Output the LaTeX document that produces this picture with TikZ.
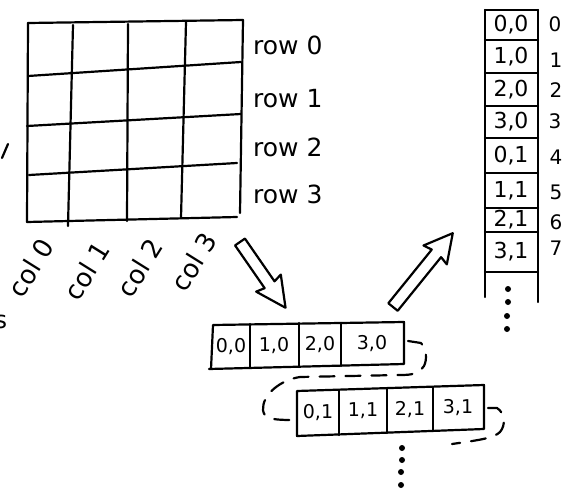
\documentclass[tikz,border=0pt]{standalone}
\usepackage{fontspec}
\setmainfont{DejaVu Sans}
\begin{document}
\begin{tikzpicture}[x=1pt,y=-1pt, line width=2.2pt, line cap=round, line join=round,
  rowlab/.style={font=\fontsize{25}{27}\selectfont, anchor=west, inner sep=0pt},
  collab/.style={font=\fontsize{26}{28}\selectfont, rotate=58, inner sep=0pt},
  cellA/.style={font=\fontsize{19}{21}\selectfont, inner sep=0pt},
  cellB/.style={font=\fontsize{22}{24}\selectfont, inner sep=0pt},
  idx/.style={font=\fontsize{20}{22}\selectfont, inner sep=0pt},
  wrap/.style={dash pattern=on 15pt off 11pt},
  dotmark/.style={circle, fill=black, inner sep=0pt, minimum size=6pt},
  hollow/.style={draw, fill=white}]
\useasboundingbox (0,0) rectangle (566,490);

% stray cut-off marks at the left edge
\draw (2,158) -- (8,144);
\node[font=\fontsize{24}{26}\selectfont, inner sep=0pt] (stray) at (1,322) {s};

% grid
\draw (28,23) -- (243,20);
\draw (28,76) -- (241,62);
\draw (27,126) -- (241,114);
\draw (29,175) -- (237,163);
\draw (27,222) -- (237,217);
\draw (28,23) -- (27,222);
\draw (73,25) -- (68,226);
\draw (128,24) -- (127,221);
\draw (186,22) -- (181,218);
\draw (243,20) -- (240,213);

% row labels
\node[rowlab] (r0) at (252,45) {row 0};
\node[rowlab] (r1) at (252,99) {row 1};
\node[rowlab] (r2) at (252,147) {row 2};
\node[rowlab] (r3) at (252,194) {row 3};

% column labels
\node[collab] (c0) at (31,268) {col 0};
\node[collab] (c1) at (87,271) {col 1};
\node[collab] (c2) at (140,268) {col 2};
\node[collab] (c3) at (194,262) {col 3};

% hollow arrows
\begin{scope}[shift={(240,242)}, rotate=-55.3]
  \draw[hollow] (0,-6) -- (52,-6) -- (50,-15) -- (80,0) -- (50,15) -- (52,6) -- (0,6) -- cycle;
\end{scope}
\begin{scope}[shift={(393,307)}, rotate=51]
  \draw[hollow] (0,-6) -- (69,-6) -- (67,-15) -- (95,0) -- (67,15) -- (69,6) -- (0,6) -- cycle;
\end{scope}

% row 0 strip
\draw (213,325) -- (404,322) -- (404,364) -- (209,369) (213,325) -- (211,369);
\draw (250,324) -- (250,368);
\draw (299,323) -- (299,367);
\draw (341,323) -- (341,366);
\node[cellA] (a00) at (231,347) {0,0};
\node[cellA] (a10) at (274,346) {1,0};
\node[cellA] (a20) at (320,345) {2,0};
\node[cellA] (a30) at (372,344) {3,0};

% wrap from row 0 to row 1
\draw[wrap] (408,341) -- (421,343) .. controls (427,350) and (427,360) .. (424,366)
  .. controls (418,374) and (412,375) .. (400,375) -- (300,377)
  .. controls (280,380) and (262,395) .. (263,410)
  .. controls (264,418) and (270,420) .. (292,420);

% row 1 strip
\draw (297,391) -- (484,385) -- (484,429) -- (297,436) -- cycle;
\draw (339,390) -- (339,435);
\draw (387,388) -- (387,433);
\draw (433,387) -- (433,431);
\node[cellA] (a01) at (318,413) {0,1};
\node[cellA] (a11) at (363,411) {1,1};
\node[cellA] (a21) at (410,410) {2,1};
\node[cellA] (a31) at (458,408) {3,1};

% wrap after row 1
\draw[wrap] (488,408) -- (497,408) .. controls (505,413) and (506,425) .. (500,432)
  .. controls (494,438) and (480,440) .. (452,444);

% dots under row 1
\node[dotmark] (d1) at (402,448) {};
\node[dotmark] (d2) at (402,460) {};
\node[dotmark] (d3) at (401,472) {};
\node[dotmark] (d4) at (401,485) {};

% vertical strip
\draw (485,10) -- (485,297);
\draw (538,10) -- (538,302);
\foreach \yy in {10,40,73,106,138,173,208,232,272} \draw (485,\yy) -- (538,\yy);
\node[cellB] (m0) at (511,25) {0,0};
\node[cellB] (m1) at (511,57) {1,0};
\node[cellB] (m2) at (511,90) {2,0};
\node[cellB] (m3) at (511,122) {3,0};
\node[cellB] (m4) at (511,156) {0,1};
\node[cellB] (m5) at (511,191) {1,1};
\node[cellB] (m6) at (511,220) {2,1};
\node[cellB] (m7) at (511,252) {3,1};

% indices
\node[idx] (i0) at (555,24) {0};
\node[idx] (i1) at (556,60) {1};
\node[idx] (i2) at (556,90) {2};
\node[idx] (i3) at (555,121) {3};
\node[idx] (i4) at (556,157) {4};
\node[idx] (i5) at (556,192) {5};
\node[idx] (i6) at (556,222) {6};
\node[idx] (i7) at (556,248) {7};

% dots under vertical strip
\node[dotmark] (e1) at (508,289) {};
\node[dotmark] (e2) at (508,302) {};
\node[dotmark] (e3) at (507,316) {};
\node[dotmark] (e4) at (507,329) {};
\end{tikzpicture}
\end{document}
